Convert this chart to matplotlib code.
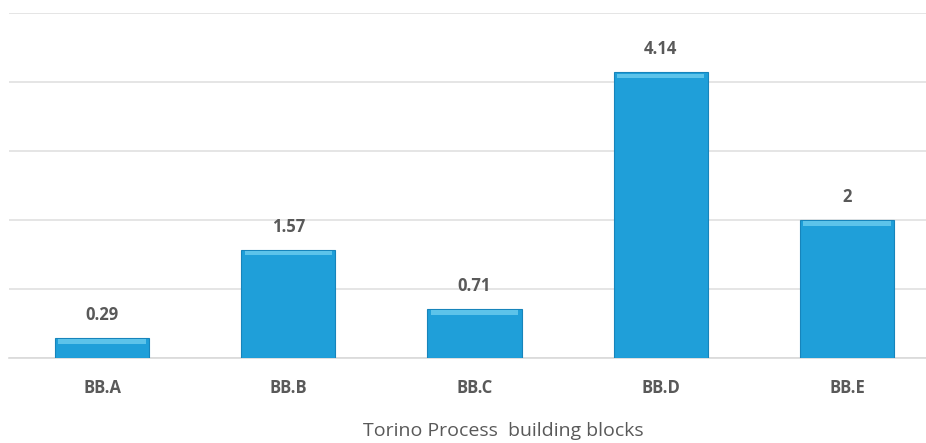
import matplotlib
matplotlib.use("Agg")
import matplotlib.pyplot as plt

categories = ["BB.A", "BB.B", "BB.C", "BB.D", "BB.E"]
values = [0.29, 1.57, 0.71, 4.14, 2]
labels = ["0.29", "1.57", "0.71", "4.14", "2"]
yticks = [0, 1, 2, 3, 4, 5]

W, H = 926, 443
fig = plt.figure(figsize=(W / 100, H / 100), dpi=100)
plt.rcParams['font.family'] = ['Open Sans', 'DejaVu Sans']

left, right = 9, 940
bottom, top = 358, 13
ax = fig.add_axes([left / W, (H - bottom) / H, (right - left) / W, (bottom - top) / H])
ax.set_xlim(-0.5, 4.5)
ax.set_ylim(0, 5)

x = list(range(len(categories)))
ax.bar(x, values, width=0.505, color="#1f9fd9", edgecolor="#1784bb", linewidth=0.8, zorder=3)
# lighter top bevel
ax.bar(x, [0.06] * len(values), bottom=[v - 0.08 for v in values], width=0.47,
       color="#5cc3ea", linewidth=0, zorder=4)

for xi, v, lab in zip(x, values, labels):
    ax.annotate(lab, (xi, v), xytext=(0, 10), textcoords="offset points",
                ha="center", va="bottom", fontsize=12, fontweight="bold", color="#595959")

ax.set_yticks(yticks)
ax.yaxis.grid(True, color="#e0e0e0", linewidth=1.2, zorder=0)
ax.tick_params(axis="y", left=False, labelleft=False)
ax.set_xticks(x)
ax.set_xticklabels(categories, fontsize=12, fontweight="bold", color="#595959")
ax.tick_params(axis="x", length=0, pad=15)
for s in ["top", "right", "left"]:
    ax.spines[s].set_visible(False)
ax.spines["bottom"].set_color("#d9d9d9")
ax.spines["bottom"].set_linewidth(1.2)

fig.text(503 / W, 1 - 436 / H, "Torino Process  building blocks", ha="center", va="baseline",
         fontsize=14, color="#595959")

fig.savefig("out.png", dpi=100)
